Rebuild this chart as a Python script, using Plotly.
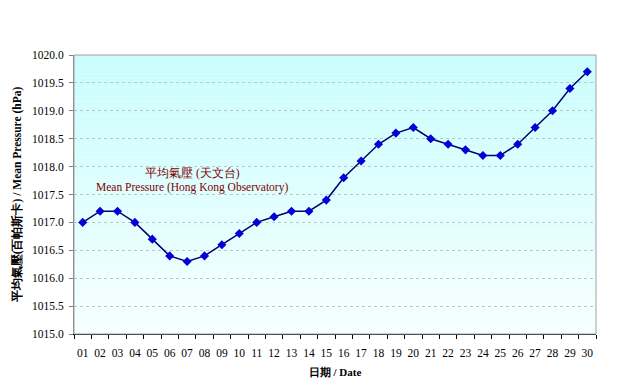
import plotly.graph_objects as go

dates = ["01","02","03","04","05","06","07","08","09","10","11","12","13","14","15",
         "16","17","18","19","20","21","22","23","24","25","26","27","28","29","30"]
pressure = [1017.0, 1017.2, 1017.2, 1017.0, 1016.7, 1016.4, 1016.3, 1016.4, 1016.6, 1016.8,
            1017.0, 1017.1, 1017.2, 1017.2, 1017.4, 1017.8, 1018.1, 1018.4, 1018.6, 1018.7,
            1018.5, 1018.4, 1018.3, 1018.2, 1018.2, 1018.4, 1018.7, 1019.0, 1019.4, 1019.7]
y_ticks = [1015.0, 1015.5, 1016.0, 1016.5, 1017.0, 1017.5, 1018.0, 1018.5, 1019.0, 1019.5, 1020.0]

serif = "Liberation Serif, Times New Roman, serif"

fig = go.Figure()
fig.add_trace(go.Scatter(
    x=dates, y=pressure, mode="lines+markers",
    line=dict(color="#000070", width=1.5),
    marker=dict(symbol="diamond", size=7, color="#0000d8", line=dict(width=0)),
    showlegend=False,
))

# gradient background
n = 60
top = (200, 253, 253)
bot = (246, 255, 255)
shapes = []
for i in range(n):
    t = i / (n - 1)
    c = tuple(round(top[k] + (bot[k] - top[k]) * t) for k in range(3))
    shapes.append(dict(type="rect", xref="x domain", yref="y domain",
                       x0=0, x1=1, y0=1 - (i + 1) / n, y1=1 - i / n,
                       fillcolor="rgb(%d,%d,%d)" % c, line=dict(width=0), layer="below"))
shapes.append(dict(type="rect", xref="x domain", yref="y domain", x0=0, x1=1, y0=0, y1=1,
                   line=dict(color="#a0a0a0", width=1), layer="above"))

# page has an 8px body margin
L, T, R, B = 66, 47, 47, 64
pw = 635 - L - R
ph = 390 - T - B
def px(xp):
    return (xp - 8 - L) / pw
def py(yp):
    return 1 - (yp - 8 - T) / ph

fig.update_layout(
    width=635, height=390,
    margin=dict(l=L, r=R, t=T, b=B, autoexpand=False),
    paper_bgcolor="white", plot_bgcolor="rgba(0,0,0,0)",
    shapes=shapes,
    font=dict(family=serif, size=11, color="black"),
    xaxis=dict(
        type="category", range=[-0.5, 29.5], automargin=False, tickangle=0,
        showline=True, linecolor="black", linewidth=1,
        ticks="outside", tickson="boundaries", ticklen=4, tickcolor="black",
        ticklabelstandoff=8,
        showgrid=False, tickfont=dict(family=serif, size=11.5),
        title=dict(text="<b>日期 / Date</b>", font=dict(family=serif, size=11), standoff=10),
    ),
    yaxis=dict(
        range=[1015, 1020], tickvals=y_ticks, tickformat=".1f", automargin=False,
        showline=True, linecolor="#808080", linewidth=1,
        ticks="outside", ticklen=4, tickcolor="#808080",
        ticklabelstandoff=3,
        showgrid=True, gridcolor="#b8c8c8", griddash="dot", gridwidth=1,
        tickfont=dict(family=serif, size=11.5),
        title=dict(text="<b>平均氣壓(百帕斯卡) / Mean Pressure (hPa)</b>",
                   font=dict(family=serif, size=11.5), standoff=8),
        zeroline=False,
    ),
    annotations=[
        dict(text="平均氣壓 (天文台)", x=px(192), y=py(173), xref="paper", yref="paper",
             xanchor="center", yanchor="middle", showarrow=False,
             font=dict(family=serif, size=11.5, color="#800000")),
        dict(text="Mean Pressure (Hong Kong Observatory)", x=px(192), y=py(187),
             xref="paper", yref="paper", xanchor="center", yanchor="middle", showarrow=False,
             font=dict(family=serif, size=11.5, color="#800000")),
    ],
)

fig.write_html("out.html")
